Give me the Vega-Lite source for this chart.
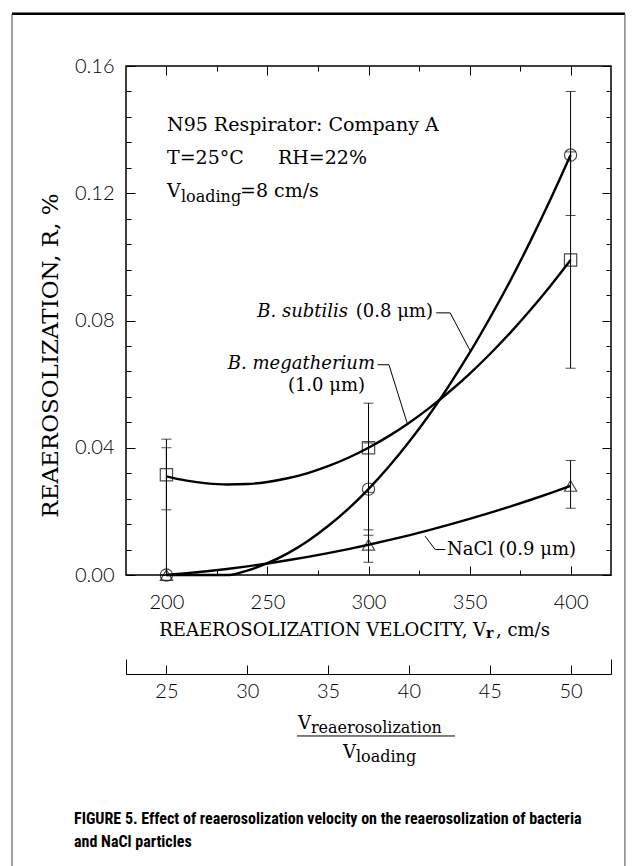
{
  "$schema": "https://vega.github.io/schema/vega-lite/v6.json",
  "width": 485,
  "height": 509,
  "autosize": {"type": "none"},
  "padding": {"left": 126, "top": 66, "right": 26, "bottom": 291},
  "background": "white",
  "config": {
    "view": {"stroke": "black", "strokeWidth": 1.5},
    "axis": {"grid": false, "domain": false, "tickColor": "black", "tickWidth": 1, "labelColor": "black", "labelFont": "Lato", "labelFontWeight": 300, "labelFontSize": 20}
  },
  "resolve": {"axis": {"x": "independent", "y": "independent"}},
  "datasets": {
    "pts": [
      {"v": 200, "R": 0.0, "series": "B. subtilis"},
      {"v": 300, "R": 0.027, "series": "B. subtilis"},
      {"v": 400, "R": 0.132, "series": "B. subtilis"},
      {"v": 200, "R": 0.0315, "series": "B. megatherium"},
      {"v": 300, "R": 0.040, "series": "B. megatherium"},
      {"v": 400, "R": 0.099, "series": "B. megatherium"},
      {"v": 200, "R": 0.0, "series": "NaCl"},
      {"v": 300, "R": 0.0095, "series": "NaCl"},
      {"v": 400, "R": 0.028, "series": "NaCl"}
    ],
    "err": [
      {"v": 200, "lo": 0.0, "hi": 0.040, "series": "B. subtilis"},
      {"v": 300, "lo": 0.0125, "hi": 0.0415, "series": "B. subtilis"},
      {"v": 400, "lo": 0.113, "hi": 0.152, "series": "B. subtilis"},
      {"v": 200, "lo": 0.0205, "hi": 0.0427, "series": "B. megatherium"},
      {"v": 300, "lo": 0.026, "hi": 0.054, "series": "B. megatherium"},
      {"v": 400, "lo": 0.065, "hi": 0.133, "series": "B. megatherium"},
      {"v": 300, "lo": 0.004, "hi": 0.0142, "series": "NaCl"},
      {"v": 400, "lo": 0.021, "hi": 0.036, "series": "NaCl"}
    ],
    "curves": [
      {"v": 200, "R": 0.0, "series": "B. subtilis"},
      {"v": 210, "R": 0.0, "series": "B. subtilis"},
      {"v": 220, "R": 0.0, "series": "B. subtilis"},
      {"v": 231, "R": 0.0, "series": "B. subtilis"},
      {"v": 240, "R": 0.0014, "series": "B. subtilis"},
      {"v": 250, "R": 0.0037, "series": "B. subtilis"},
      {"v": 260, "R": 0.0068, "series": "B. subtilis"},
      {"v": 270, "R": 0.0107, "series": "B. subtilis"},
      {"v": 280, "R": 0.0154, "series": "B. subtilis"},
      {"v": 290, "R": 0.0208, "series": "B. subtilis"},
      {"v": 300, "R": 0.0270, "series": "B. subtilis"},
      {"v": 310, "R": 0.0340, "series": "B. subtilis"},
      {"v": 320, "R": 0.0418, "series": "B. subtilis"},
      {"v": 330, "R": 0.0503, "series": "B. subtilis"},
      {"v": 340, "R": 0.0597, "series": "B. subtilis"},
      {"v": 350, "R": 0.0698, "series": "B. subtilis"},
      {"v": 360, "R": 0.0807, "series": "B. subtilis"},
      {"v": 370, "R": 0.0923, "series": "B. subtilis"},
      {"v": 380, "R": 0.1048, "series": "B. subtilis"},
      {"v": 390, "R": 0.1180, "series": "B. subtilis"},
      {"v": 400, "R": 0.1320, "series": "B. subtilis"},
      {"v": 200, "R": 0.0310, "series": "B. megatherium"},
      {"v": 210, "R": 0.02965, "series": "B. megatherium"},
      {"v": 220, "R": 0.0288, "series": "B. megatherium"},
      {"v": 230, "R": 0.02845, "series": "B. megatherium"},
      {"v": 240, "R": 0.0286, "series": "B. megatherium"},
      {"v": 250, "R": 0.02925, "series": "B. megatherium"},
      {"v": 260, "R": 0.0304, "series": "B. megatherium"},
      {"v": 270, "R": 0.03205, "series": "B. megatherium"},
      {"v": 280, "R": 0.0342, "series": "B. megatherium"},
      {"v": 290, "R": 0.03685, "series": "B. megatherium"},
      {"v": 300, "R": 0.0400, "series": "B. megatherium"},
      {"v": 310, "R": 0.04365, "series": "B. megatherium"},
      {"v": 320, "R": 0.0478, "series": "B. megatherium"},
      {"v": 330, "R": 0.05245, "series": "B. megatherium"},
      {"v": 340, "R": 0.0576, "series": "B. megatherium"},
      {"v": 350, "R": 0.06325, "series": "B. megatherium"},
      {"v": 360, "R": 0.0694, "series": "B. megatherium"},
      {"v": 370, "R": 0.07605, "series": "B. megatherium"},
      {"v": 380, "R": 0.0832, "series": "B. megatherium"},
      {"v": 390, "R": 0.09085, "series": "B. megatherium"},
      {"v": 400, "R": 0.0990, "series": "B. megatherium"},
      {"v": 200, "R": 0.0, "series": "NaCl"},
      {"v": 210, "R": 0.00055, "series": "NaCl"},
      {"v": 220, "R": 0.00118, "series": "NaCl"},
      {"v": 230, "R": 0.0019, "series": "NaCl"},
      {"v": 240, "R": 0.00272, "series": "NaCl"},
      {"v": 250, "R": 0.00363, "series": "NaCl"},
      {"v": 260, "R": 0.00462, "series": "NaCl"},
      {"v": 270, "R": 0.0057, "series": "NaCl"},
      {"v": 280, "R": 0.00688, "series": "NaCl"},
      {"v": 290, "R": 0.00815, "series": "NaCl"},
      {"v": 300, "R": 0.0095, "series": "NaCl"},
      {"v": 310, "R": 0.01095, "series": "NaCl"},
      {"v": 320, "R": 0.01248, "series": "NaCl"},
      {"v": 330, "R": 0.0141, "series": "NaCl"},
      {"v": 340, "R": 0.01582, "series": "NaCl"},
      {"v": 350, "R": 0.01763, "series": "NaCl"},
      {"v": 360, "R": 0.01952, "series": "NaCl"},
      {"v": 370, "R": 0.0215, "series": "NaCl"},
      {"v": 380, "R": 0.02358, "series": "NaCl"},
      {"v": 390, "R": 0.02575, "series": "NaCl"},
      {"v": 400, "R": 0.028, "series": "NaCl"}
    ],
    "leaders": [
      {"id": 1, "k": 0, "v": 333.5, "R": 0.0824},
      {"id": 1, "k": 1, "v": 340.4, "R": 0.0824},
      {"id": 1, "k": 2, "v": 350.3, "R": 0.0705},
      {"id": 2, "k": 0, "v": 304.5, "R": 0.0661},
      {"id": 2, "k": 1, "v": 310.1, "R": 0.0661},
      {"id": 2, "k": 2, "v": 319.1, "R": 0.0478},
      {"id": 3, "k": 0, "v": 328.0, "R": 0.0122},
      {"id": 3, "k": 1, "v": 333.0, "R": 0.0080},
      {"id": 3, "k": 2, "v": 338.0, "R": 0.0080}
    ],
    "annot": [
      {"x": 200.3, "y": 0.1415, "t": "N95 Respirator: Company A"},
      {"x": 200.3, "y": 0.1311, "t": "T=25°C"},
      {"x": 255.2, "y": 0.1311, "t": "RH=22%"},
      {"x": 200.3, "y": 0.1207, "t": "V"},
      {"x": 236.4, "y": 0.1207, "t": "=8 cm/s"}
    ],
    "textLeft": [
      {"x": 338.9, "y": 0.0080, "t": "NaCl (0.9 μm)"},
      {"x": 363.1, "y": -0.0176, "t": ", cm/s"}
    ],
    "textRight": [
      {"x": 331.9, "y": 0.0827, "t": "(0.8 μm)"},
      {"x": 298.3, "y": 0.0594, "t": "(1.0 μm)"},
      {"x": 358.2, "y": -0.0176, "t": "REAEROSOLIZATION VELOCITY, V"},
      {"x": 271.5, "y": -0.0468, "t": "V"},
      {"x": 293.8, "y": -0.0560, "t": "V"}
    ],
    "italRight": [
      {"x": 289.9, "y": 0.0827, "t": "B. subtilis"},
      {"x": 303.2, "y": 0.0663, "t": "B. megatherium"}
    ],
    "subs": [
      {"x": 207.2, "y": 0.1188, "t": "loading"},
      {"x": 271.5, "y": -0.0482, "t": "reaerosolization"},
      {"x": 293.8, "y": -0.0573, "t": "loading"}
    ],
    "boldSub": [{"x": 358.2, "y": -0.0187, "t": "r"}],
    "fracBar": [{"x1": 264.6, "x2": 342.8, "y": -0.0506}],
    "caption": [{"x": 154.3, "y": -0.0742, "t": "FIGURE 5. Effect of reaerosolization velocity on the reaerosolization of bacteria\nand NaCl particles"}]
  },
  "layer": [
    {
      "data": {"name": "err"},
      "mark": {"type": "rule", "color": "black", "strokeWidth": 1},
      "encoding": {
        "x": {"field": "v", "type": "quantitative", "scale": {"domain": [180, 420], "nice": false, "zero": false},
          "axis": {"orient": "bottom", "values": [200, 250, 300, 350, 400], "tickSize": -9, "labelPadding": 36, "labelBaseline": "middle", "title": null}},
        "y": {"field": "lo", "type": "quantitative", "scale": {"domain": [0, 0.16], "nice": false, "zero": false},
          "axis": {"orient": "left", "values": [0, 0.04, 0.08, 0.12, 0.16], "format": ".2f", "tickSize": -9, "labelPadding": 21,
            "title": "REAEROSOLIZATION, R, %", "titleFont": "DejaVu Serif", "titleFontSize": 23, "titleFontWeight": "normal", "titleColor": "black",
            "titleX": -76, "titleY": 289, "titleAngle": 270, "titleAlign": "center", "titleBaseline": "middle"}},
        "y2": {"field": "hi"}
      }
    },
    {
      "data": {"name": "err"},
      "transform": [{"fold": ["lo", "hi"], "as": ["end", "val"]}],
      "mark": {"type": "tick", "orient": "horizontal", "size": 10, "thickness": 1, "color": "black"},
      "encoding": {
        "x": {"field": "v", "type": "quantitative", "scale": {"domain": [180, 420], "nice": false, "zero": false},
          "axis": {"orient": "bottom", "values": [225, 275, 325, 375], "tickSize": -5, "labels": false, "title": null}},
        "y": {"field": "val", "type": "quantitative", "scale": {"domain": [0, 0.16], "nice": false, "zero": false},
          "axis": {"orient": "left", "values": [0.008, 0.016, 0.024, 0.032, 0.048, 0.056, 0.064, 0.072, 0.088, 0.096, 0.104, 0.112, 0.128, 0.136, 0.144, 0.152], "tickSize": -5, "labels": false, "title": null}}
      }
    },
    {
      "data": {"name": "curves"},
      "mark": {"type": "line", "interpolate": "monotone", "color": "black", "strokeWidth": 2.4},
      "encoding": {
        "x": {"field": "v", "type": "quantitative", "scale": {"domain": [180, 420], "nice": false, "zero": false},
          "axis": {"orient": "top", "values": [200, 250, 300, 350, 400], "tickSize": -9, "labels": false, "title": null}},
        "y": {"field": "R", "type": "quantitative", "scale": {"domain": [0, 0.16], "nice": false, "zero": false},
          "axis": {"orient": "right", "values": [0, 0.04, 0.08, 0.12, 0.16], "tickSize": -9, "labels": false, "title": null}},
        "detail": {"field": "series"}
      }
    },
    {
      "data": {"name": "pts"},
      "mark": {"type": "point", "filled": false, "color": "black", "strokeWidth": 1.2, "size": 150},
      "encoding": {
        "x": {"field": "v", "type": "quantitative", "scale": {"domain": [180, 420], "nice": false, "zero": false},
          "axis": {"orient": "top", "values": [225, 275, 325, 375], "tickSize": -5, "labels": false, "title": null}},
        "y": {"field": "R", "type": "quantitative", "scale": {"domain": [0, 0.16], "nice": false, "zero": false},
          "axis": {"orient": "right", "values": [0.008, 0.016, 0.024, 0.032, 0.048, 0.056, 0.064, 0.072, 0.088, 0.096, 0.104, 0.112, 0.128, 0.136, 0.144, 0.152], "tickSize": -5, "labels": false, "title": null}},
        "shape": {"field": "series", "type": "nominal", "scale": {"domain": ["B. subtilis", "B. megatherium", "NaCl"], "range": ["circle", "square", "triangle-up"]}, "legend": null}
      }
    },
    {
      "data": {"name": "leaders"},
      "mark": {"type": "line", "color": "black", "strokeWidth": 1},
      "encoding": {
        "x": {"field": "v", "type": "quantitative", "scale": {"domain": [180, 420], "nice": false, "zero": false},
          "axis": {"orient": "bottom", "offset": 99, "values": [200, 240, 280, 320, 360, 400], "labelExpr": "datum.value / 8", "tickSize": -9, "labelPadding": 26, "labelBaseline": "middle", "domain": true, "domainColor": "black", "domainWidth": 1, "title": null}},
        "y": {"field": "R", "type": "quantitative", "scale": {"domain": [0, 0.16], "nice": false, "zero": false}, "axis": null},
        "detail": {"field": "id"},
        "order": {"field": "k"}
      }
    },
    {
      "data": {"name": "fracBar"},
      "mark": {"type": "rule", "color": "black", "strokeWidth": 1},
      "encoding": {
        "x": {"field": "x1", "type": "quantitative", "scale": {"domain": [180, 420], "nice": false, "zero": false},
          "axis": {"orient": "bottom", "offset": 99, "values": [180, 420], "tickSize": -15, "labels": false, "title": null}},
        "x2": {"field": "x2"},
        "y": {"field": "y", "type": "quantitative", "scale": {"domain": [0, 0.16], "nice": false, "zero": false}, "axis": null}
      }
    },
    {
      "data": {"name": "annot"},
      "mark": {"type": "text", "align": "left", "baseline": "middle", "font": "DejaVu Serif", "fontSize": 19, "color": "black"},
      "encoding": {
        "x": {"field": "x", "type": "quantitative", "axis": null},
        "y": {"field": "y", "type": "quantitative", "axis": null},
        "text": {"field": "t"}
      }
    },
    {
      "data": {"name": "textLeft"},
      "mark": {"type": "text", "align": "left", "baseline": "middle", "font": "DejaVu Serif", "fontSize": 18, "color": "black"},
      "encoding": {
        "x": {"field": "x", "type": "quantitative", "axis": null},
        "y": {"field": "y", "type": "quantitative", "axis": null},
        "text": {"field": "t"}
      }
    },
    {
      "data": {"name": "textRight"},
      "mark": {"type": "text", "align": "right", "baseline": "middle", "font": "DejaVu Serif", "fontSize": 18, "color": "black"},
      "encoding": {
        "x": {"field": "x", "type": "quantitative", "axis": null},
        "y": {"field": "y", "type": "quantitative", "axis": null},
        "text": {"field": "t"}
      }
    },
    {
      "data": {"name": "italRight"},
      "mark": {"type": "text", "align": "right", "baseline": "middle", "font": "DejaVu Serif", "fontStyle": "italic", "fontSize": 18, "color": "black"},
      "encoding": {
        "x": {"field": "x", "type": "quantitative", "axis": null},
        "y": {"field": "y", "type": "quantitative", "axis": null},
        "text": {"field": "t"}
      }
    },
    {
      "data": {"name": "subs"},
      "mark": {"type": "text", "align": "left", "baseline": "middle", "font": "DejaVu Serif", "fontSize": 16, "color": "black"},
      "encoding": {
        "x": {"field": "x", "type": "quantitative", "axis": null},
        "y": {"field": "y", "type": "quantitative", "axis": null},
        "text": {"field": "t"}
      }
    },
    {
      "data": {"name": "boldSub"},
      "mark": {"type": "text", "align": "left", "baseline": "middle", "font": "DejaVu Serif", "fontWeight": "bold", "fontSize": 14, "color": "black"},
      "encoding": {
        "x": {"field": "x", "type": "quantitative", "axis": null},
        "y": {"field": "y", "type": "quantitative", "axis": null},
        "text": {"field": "t"}
      }
    },
    {
      "data": {"name": "caption"},
      "mark": {"type": "text", "align": "left", "baseline": "top", "lineBreak": "\n", "lineHeight": 23, "font": "Roboto Condensed, Lato, sans-serif", "fontWeight": "bold", "fontSize": 16, "color": "black"},
      "encoding": {
        "x": {"field": "x", "type": "quantitative", "axis": null},
        "y": {"field": "y", "type": "quantitative", "axis": null},
        "text": {"field": "t"}
      }
    },
    {
      "data": {"values": [{}]},
      "mark": {"type": "rule", "color": "black", "strokeWidth": 2.5},
      "encoding": {
        "x": {"datum": 123.6, "type": "quantitative", "axis": null},
        "x2": {"datum": 426.9},
        "y": {"datum": 0.1764, "type": "quantitative", "axis": null}
      }
    },
    {
      "data": {"values": [{}]},
      "mark": {"type": "rule", "color": "#444444", "strokeWidth": 1},
      "encoding": {
        "x": {"datum": 123.6, "type": "quantitative", "axis": null},
        "y": {"datum": 0.1764, "type": "quantitative", "axis": null},
        "y2": {"datum": -0.095}
      }
    },
    {
      "data": {"values": [{}]},
      "mark": {"type": "rule", "color": "#444444", "strokeWidth": 1},
      "encoding": {
        "x": {"datum": 426.9, "type": "quantitative", "axis": null},
        "y": {"datum": 0.1764, "type": "quantitative", "axis": null},
        "y2": {"datum": -0.095}
      }
    }
  ]
}
